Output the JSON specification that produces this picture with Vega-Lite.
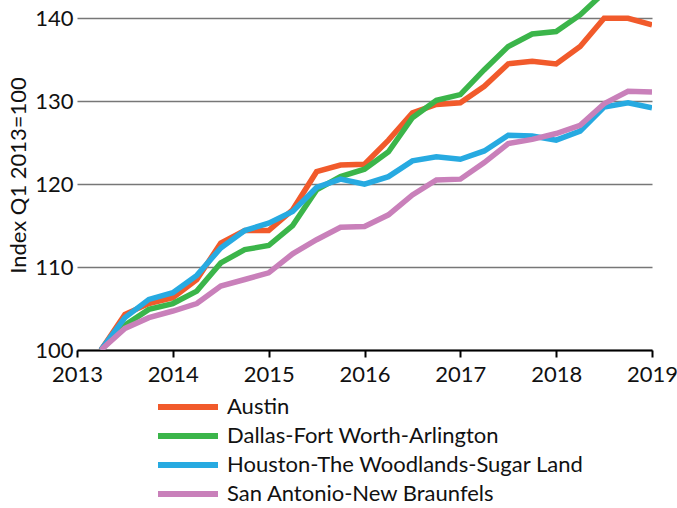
{
  "$schema": "https://vega.github.io/schema/vega-lite/v6.json",
  "autosize": "none",
  "width": 575,
  "height": 350,
  "padding": {"left": 77, "top": 0, "right": 25, "bottom": 158},
  "background": "white",
  "config": {
    "font": "Lato",
    "view": {"stroke": null}
  },
  "datasets": {
    "series": [
      {"metro": "Austin", "t": 2013.25, "v": 100}, {"metro": "Austin", "t": 2013.5, "v": 104.3}, {"metro": "Austin", "t": 2013.75, "v": 105.6}, {"metro": "Austin", "t": 2014, "v": 106.3},
      {"metro": "Austin", "t": 2014.25, "v": 108.5}, {"metro": "Austin", "t": 2014.5, "v": 112.9}, {"metro": "Austin", "t": 2014.75, "v": 114.4}, {"metro": "Austin", "t": 2015, "v": 114.4},
      {"metro": "Austin", "t": 2015.25, "v": 116.9}, {"metro": "Austin", "t": 2015.5, "v": 121.5}, {"metro": "Austin", "t": 2015.75, "v": 122.3}, {"metro": "Austin", "t": 2016, "v": 122.4},
      {"metro": "Austin", "t": 2016.25, "v": 125.3}, {"metro": "Austin", "t": 2016.5, "v": 128.6}, {"metro": "Austin", "t": 2016.75, "v": 129.6}, {"metro": "Austin", "t": 2017, "v": 129.8},
      {"metro": "Austin", "t": 2017.25, "v": 131.8}, {"metro": "Austin", "t": 2017.5, "v": 134.5}, {"metro": "Austin", "t": 2017.75, "v": 134.8}, {"metro": "Austin", "t": 2018, "v": 134.5},
      {"metro": "Austin", "t": 2018.25, "v": 136.6}, {"metro": "Austin", "t": 2018.5, "v": 140.0}, {"metro": "Austin", "t": 2018.75, "v": 140.0}, {"metro": "Austin", "t": 2019, "v": 139.2},

      {"metro": "Dallas-Fort Worth-Arlington", "t": 2013.25, "v": 100}, {"metro": "Dallas-Fort Worth-Arlington", "t": 2013.5, "v": 103.0}, {"metro": "Dallas-Fort Worth-Arlington", "t": 2013.75, "v": 104.9}, {"metro": "Dallas-Fort Worth-Arlington", "t": 2014, "v": 105.6},
      {"metro": "Dallas-Fort Worth-Arlington", "t": 2014.25, "v": 107.1}, {"metro": "Dallas-Fort Worth-Arlington", "t": 2014.5, "v": 110.5}, {"metro": "Dallas-Fort Worth-Arlington", "t": 2014.75, "v": 112.1}, {"metro": "Dallas-Fort Worth-Arlington", "t": 2015, "v": 112.6},
      {"metro": "Dallas-Fort Worth-Arlington", "t": 2015.25, "v": 115.0}, {"metro": "Dallas-Fort Worth-Arlington", "t": 2015.5, "v": 119.3}, {"metro": "Dallas-Fort Worth-Arlington", "t": 2015.75, "v": 120.9}, {"metro": "Dallas-Fort Worth-Arlington", "t": 2016, "v": 121.8},
      {"metro": "Dallas-Fort Worth-Arlington", "t": 2016.25, "v": 123.9}, {"metro": "Dallas-Fort Worth-Arlington", "t": 2016.5, "v": 128.0}, {"metro": "Dallas-Fort Worth-Arlington", "t": 2016.75, "v": 130.1}, {"metro": "Dallas-Fort Worth-Arlington", "t": 2017, "v": 130.8},
      {"metro": "Dallas-Fort Worth-Arlington", "t": 2017.25, "v": 133.8}, {"metro": "Dallas-Fort Worth-Arlington", "t": 2017.5, "v": 136.6}, {"metro": "Dallas-Fort Worth-Arlington", "t": 2017.75, "v": 138.1}, {"metro": "Dallas-Fort Worth-Arlington", "t": 2018, "v": 138.4},
      {"metro": "Dallas-Fort Worth-Arlington", "t": 2018.25, "v": 140.4}, {"metro": "Dallas-Fort Worth-Arlington", "t": 2018.5, "v": 143.1}, {"metro": "Dallas-Fort Worth-Arlington", "t": 2018.75, "v": 144.2}, {"metro": "Dallas-Fort Worth-Arlington", "t": 2019, "v": 144.8},

      {"metro": "Houston-The Woodlands-Sugar Land", "t": 2013.25, "v": 100}, {"metro": "Houston-The Woodlands-Sugar Land", "t": 2013.5, "v": 103.9}, {"metro": "Houston-The Woodlands-Sugar Land", "t": 2013.75, "v": 106.1}, {"metro": "Houston-The Woodlands-Sugar Land", "t": 2014, "v": 106.9},
      {"metro": "Houston-The Woodlands-Sugar Land", "t": 2014.25, "v": 109.0}, {"metro": "Houston-The Woodlands-Sugar Land", "t": 2014.5, "v": 112.3}, {"metro": "Houston-The Woodlands-Sugar Land", "t": 2014.75, "v": 114.4}, {"metro": "Houston-The Woodlands-Sugar Land", "t": 2015, "v": 115.3},
      {"metro": "Houston-The Woodlands-Sugar Land", "t": 2015.25, "v": 116.7}, {"metro": "Houston-The Woodlands-Sugar Land", "t": 2015.5, "v": 119.6}, {"metro": "Houston-The Woodlands-Sugar Land", "t": 2015.75, "v": 120.6}, {"metro": "Houston-The Woodlands-Sugar Land", "t": 2016, "v": 120.0},
      {"metro": "Houston-The Woodlands-Sugar Land", "t": 2016.25, "v": 120.9}, {"metro": "Houston-The Woodlands-Sugar Land", "t": 2016.5, "v": 122.8}, {"metro": "Houston-The Woodlands-Sugar Land", "t": 2016.75, "v": 123.3}, {"metro": "Houston-The Woodlands-Sugar Land", "t": 2017, "v": 123.0},
      {"metro": "Houston-The Woodlands-Sugar Land", "t": 2017.25, "v": 124.0}, {"metro": "Houston-The Woodlands-Sugar Land", "t": 2017.5, "v": 125.9}, {"metro": "Houston-The Woodlands-Sugar Land", "t": 2017.75, "v": 125.8}, {"metro": "Houston-The Woodlands-Sugar Land", "t": 2018, "v": 125.3},
      {"metro": "Houston-The Woodlands-Sugar Land", "t": 2018.25, "v": 126.4}, {"metro": "Houston-The Woodlands-Sugar Land", "t": 2018.5, "v": 129.3}, {"metro": "Houston-The Woodlands-Sugar Land", "t": 2018.75, "v": 129.8}, {"metro": "Houston-The Woodlands-Sugar Land", "t": 2019, "v": 129.2},

      {"metro": "San Antonio-New Braunfels", "t": 2013.25, "v": 100}, {"metro": "San Antonio-New Braunfels", "t": 2013.5, "v": 102.6}, {"metro": "San Antonio-New Braunfels", "t": 2013.75, "v": 103.9}, {"metro": "San Antonio-New Braunfels", "t": 2014, "v": 104.7},
      {"metro": "San Antonio-New Braunfels", "t": 2014.25, "v": 105.6}, {"metro": "San Antonio-New Braunfels", "t": 2014.5, "v": 107.7}, {"metro": "San Antonio-New Braunfels", "t": 2014.75, "v": 108.5}, {"metro": "San Antonio-New Braunfels", "t": 2015, "v": 109.3},
      {"metro": "San Antonio-New Braunfels", "t": 2015.25, "v": 111.6}, {"metro": "San Antonio-New Braunfels", "t": 2015.5, "v": 113.3}, {"metro": "San Antonio-New Braunfels", "t": 2015.75, "v": 114.8}, {"metro": "San Antonio-New Braunfels", "t": 2016, "v": 114.9},
      {"metro": "San Antonio-New Braunfels", "t": 2016.25, "v": 116.3}, {"metro": "San Antonio-New Braunfels", "t": 2016.5, "v": 118.7}, {"metro": "San Antonio-New Braunfels", "t": 2016.75, "v": 120.5}, {"metro": "San Antonio-New Braunfels", "t": 2017, "v": 120.6},
      {"metro": "San Antonio-New Braunfels", "t": 2017.25, "v": 122.6}, {"metro": "San Antonio-New Braunfels", "t": 2017.5, "v": 124.9}, {"metro": "San Antonio-New Braunfels", "t": 2017.75, "v": 125.4}, {"metro": "San Antonio-New Braunfels", "t": 2018, "v": 126.1},
      {"metro": "San Antonio-New Braunfels", "t": 2018.25, "v": 127.1}, {"metro": "San Antonio-New Braunfels", "t": 2018.5, "v": 129.7}, {"metro": "San Antonio-New Braunfels", "t": 2018.75, "v": 131.2}, {"metro": "San Antonio-New Braunfels", "t": 2019, "v": 131.1}
    ]
  },
  "data": {"name": "series"},
  "mark": {"type": "line", "strokeWidth": 5.5, "clip": true, "strokeJoin": "miter"},
  "encoding": {
    "x": {
      "field": "t",
      "type": "quantitative",
      "scale": {"domain": [2013, 2019], "nice": false, "zero": false},
      "axis": {
        "values": [2013, 2014, 2015, 2016, 2017, 2018, 2019],
        "format": "d",
        "title": null,
        "grid": false,
        "domainColor": "black",
        "domainWidth": 2,
        "tickColor": "black",
        "tickWidth": 2,
        "tickSize": 7,
        "labelFontSize": 22,
        "labelColor": "#111",
        "labelPadding": 7,
        "labelFlush": false
      }
    },
    "y": {
      "field": "v",
      "type": "quantitative",
      "scale": {"domain": [100, 142.2], "nice": false, "zero": false},
      "axis": {
        "values": [100, 110, 120, 130, 140],
        "title": "Index Q1 2013=100",
        "titleFontSize": 22,
        "titleFontWeight": "normal",
        "titleColor": "#111",
        "titlePadding": 4,
        "domain": false,
        "ticks": false,
        "grid": true,
        "gridColor": "#777",
        "gridWidth": 1.5,
        "labelFontSize": 22,
        "labelColor": "#111",
        "labelPadding": 4,
        "labelFlush": false
      }
    },
    "color": {
      "field": "metro",
      "type": "nominal",
      "scale": {
        "domain": ["Austin", "Dallas-Fort Worth-Arlington", "Houston-The Woodlands-Sugar Land", "San Antonio-New Braunfels"],
        "range": ["#F15A2B", "#3BB54A", "#27AAE1", "#C980BA"]
      },
      "legend": {
        "title": null,
        "orient": "none",
        "legendX": 68,
        "legendY": 394,
        "symbolType": "M0,0H6",
        "symbolStrokeWidth": 6,
        "symbolSize": 400,
        "labelFontSize": 22,
        "labelColor": "#111",
        "labelOffset": 56,
        "labelLimit": 500,
        "rowPadding": 4
      }
    }
  }
}
